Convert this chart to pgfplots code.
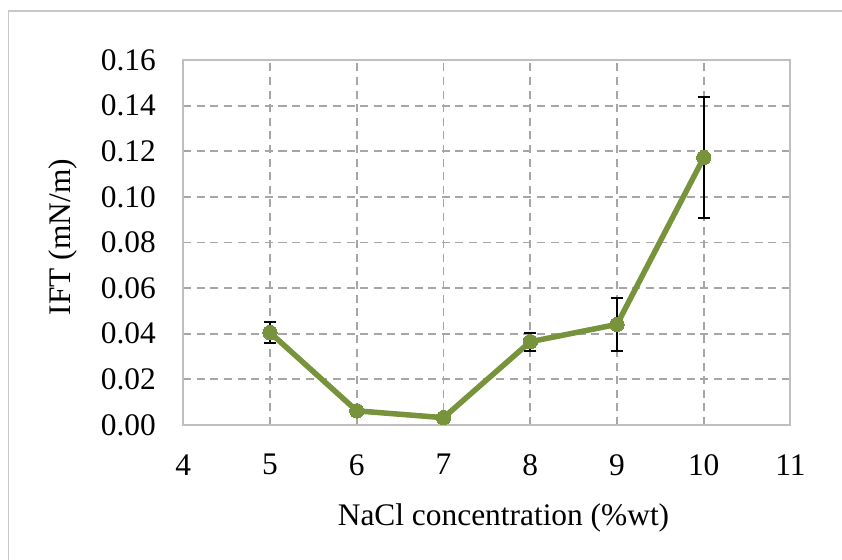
\documentclass[border=0pt]{standalone}
\usepackage{fontspec}
\setmainfont{Liberation Serif}
\usepackage{pgfplots}
\pgfplotsset{compat=1.18}
\definecolor{olive}{HTML}{77933C}
\definecolor{gridgray}{HTML}{A6A6A6}
\definecolor{boxgray}{HTML}{BFBFBF}
\definecolor{framegray}{HTML}{C8C8C8}
\begin{document}
\begin{tikzpicture}
\useasboundingbox (0,0) rectangle (421pt,280pt);
\fill[white] (0,0) rectangle (421pt,280pt);
\draw[framegray, line width=0.6pt] (4.15pt,0) -- (4.15pt,274.5pt) -- (421pt,274.5pt);
\begin{axis}[
  at={(91.65pt,67.5pt)}, anchor=south west,
  scale only axis, width=303.6pt, height=182.5pt,
  xmin=4, xmax=11, ymin=0, ymax=0.16,
  xtick={4,5,6,7,8,9,10,11},
  ytick={0,0.02,0.04,0.06,0.08,0.10,0.12,0.14,0.16},
  major tick length=0pt,
  axis line style={boxgray, line width=1pt},
  grid=major,
  major grid style={gridgray, line width=0.9pt, dash pattern=on 4pt off 2.8pt},
  ticklabel style={font=\fontsize{15.7pt}{18pt}\selectfont, inner sep=0pt},
  xticklabel style={anchor=north, yshift=-14.5pt},
  yticklabel style={anchor=east, xshift=-13.5pt,
    /pgf/number format/.cd, fixed, fixed zerofill, precision=2},
  /pgf/number format/assume math mode=true,
  clip=false,
]
\addplot[olive, line width=2.75pt, mark=*, mark size=3.6pt,
  mark options={fill=olive, draw=olive, line width=0pt},
  error bars/.cd, y dir=both, y explicit,
  error bar style={black, line width=1pt},
  error mark options={black, rotate=90, mark size=3pt, line width=1pt}]
coordinates {
  (5,0.0405) +- (0,0.0046)
  (6,0.0062) +- (0,0)
  (7,0.0032) +- (0,0)
  (8,0.0365) +- (0,0.0040)
  (9,0.0441) +- (0,0.0115)
  (10,0.1172) +- (0,0.0266)
};
\end{axis}
\node[font=\fontsize{15.7pt}{18pt}\selectfont, rotate=90, inner sep=0pt] at (31.5pt,161.5pt) {IFT (mN/m)};
\node[font=\fontsize{15.7pt}{18pt}\selectfont, inner sep=0pt] at (251.75pt,21pt) {NaCl concentration (\%wt)};
\end{tikzpicture}
\end{document}
